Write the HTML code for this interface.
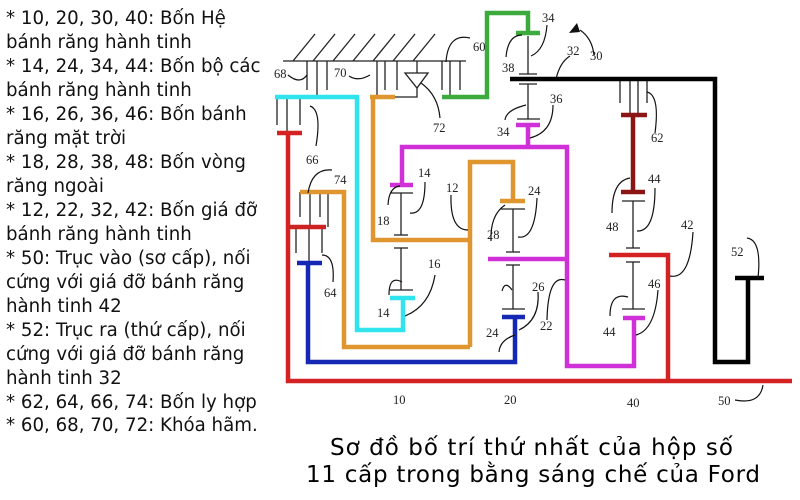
<!DOCTYPE html>
<html><head><meta charset="utf-8"><style>
html,body{margin:0;padding:0;background:#fff;}
svg{display:block;}
.t{font-family:"DejaVu Sans","Liberation Sans",sans-serif;font-size:18.2px;fill:#111;}
.n{font-family:"Liberation Serif",serif;font-size:12.5px;fill:#222;}
.h{font-family:"DejaVu Sans","Liberation Sans",sans-serif;font-size:23px;fill:#000;}
</style></head><body>
<svg width="800" height="500" viewBox="0 0 800 500" xmlns="http://www.w3.org/2000/svg">
<g class="t">
<text x="6" y="24">* 10, 20, 30, 40: Bốn Hệ</text>
<text x="6" y="48">bánh răng hành tinh</text>
<text x="6" y="72">* 14, 24, 34, 44: Bốn bộ các</text>
<text x="6" y="96">bánh răng hành tinh</text>
<text x="6" y="120">* 16, 26, 36, 46: Bốn bánh</text>
<text x="6" y="144">răng mặt trời</text>
<text x="6" y="168">* 18, 28, 38, 48: Bốn vòng</text>
<text x="6" y="192">răng ngoài</text>
<text x="6" y="216">* 12, 22, 32, 42: Bốn giá đỡ</text>
<text x="6" y="240">bánh răng hành tinh</text>
<text x="6" y="264">* 50: Trục vào (sơ cấp), nối</text>
<text x="6" y="288">cứng với giá đỡ bánh răng</text>
<text x="6" y="312">hành tinh 42</text>
<text x="6" y="336">* 52: Trục ra (thứ cấp), nối</text>
<text x="6" y="360">cứng với giá đỡ bánh răng</text>
<text x="6" y="384">hành tinh 32</text>
<text x="6" y="408">* 62, 64, 66, 74: Bốn ly hợp</text>
<text x="6" y="431">* 60, 68, 70, 72: Khóa hãm.</text>
</g>
<text class="h" x="330" y="455" textLength="403">Sơ đồ bố trí thứ nhất của hộp số</text>
<text class="h" x="306" y="482" textLength="454">11 cấp trong bằng sáng chế của Ford</text>

<g stroke="#222" stroke-width="1.3" fill="none">
<line x1="283" y1="61" x2="466" y2="61"/>
<line x1="293" y1="61" x2="315" y2="34"/><line x1="313" y1="61" x2="335" y2="34"/>
<line x1="333" y1="61" x2="355" y2="34"/><line x1="353" y1="61" x2="375" y2="34"/>
<line x1="373" y1="61" x2="395" y2="34"/><line x1="393" y1="61" x2="415" y2="34"/>
<line x1="413" y1="61" x2="435" y2="34"/>
<line x1="307" y1="61" x2="307" y2="90"/><line x1="317" y1="61" x2="317" y2="97"/><line x1="327" y1="61" x2="327" y2="90"/>
<line x1="377" y1="61" x2="377" y2="97"/><line x1="385" y1="61" x2="385" y2="90"/><line x1="397" y1="61" x2="397" y2="90"/>
<line x1="442" y1="61" x2="442" y2="90"/><line x1="450" y1="61" x2="450" y2="97"/><line x1="460" y1="61" x2="460" y2="90"/>
<line x1="417" y1="61" x2="417" y2="73"/>
<path d="M405 73 L428 73 L417 88 Z"/>
<polyline points="417,88 417,97 395,97"/>
<line x1="277" y1="97" x2="277" y2="125"/><line x1="287" y1="97" x2="287" y2="133"/><line x1="300" y1="97" x2="300" y2="125"/>
<line x1="300" y1="192" x2="300" y2="217"/><line x1="310" y1="192" x2="310" y2="227"/><line x1="320" y1="192" x2="320" y2="217"/><line x1="328" y1="192" x2="328" y2="227"/>
<line x1="296" y1="227" x2="296" y2="253"/><line x1="309" y1="227" x2="309" y2="263"/><line x1="322" y1="227" x2="322" y2="253"/>
<line x1="620" y1="79" x2="620" y2="103"/><line x1="630" y1="79" x2="630" y2="115"/><line x1="638" y1="79" x2="638" y2="115"/><line x1="647" y1="79" x2="647" y2="103"/>
<line x1="528" y1="36" x2="528" y2="74"/><line x1="519" y1="74" x2="537" y2="74"/>
<line x1="519" y1="84" x2="537" y2="84"/><line x1="528" y1="84" x2="528" y2="119"/><line x1="517" y1="119" x2="540" y2="119"/>
<line x1="390" y1="193" x2="413" y2="193"/><line x1="401" y1="193" x2="401" y2="235"/><line x1="394" y1="235" x2="408" y2="235"/>
<line x1="394" y1="248" x2="408" y2="248"/><line x1="401" y1="248" x2="401" y2="290"/><line x1="390" y1="290" x2="413" y2="290"/>
<line x1="501" y1="209" x2="525" y2="209"/><line x1="513" y1="209" x2="513" y2="252"/><line x1="506" y1="252" x2="520" y2="252"/>
<line x1="506" y1="265" x2="520" y2="265"/><line x1="513" y1="265" x2="513" y2="309"/><line x1="502" y1="309" x2="525" y2="309"/>
<line x1="622" y1="201" x2="645" y2="201"/><line x1="633" y1="201" x2="633" y2="248"/><line x1="626" y1="248" x2="640" y2="248"/>
<line x1="626" y1="262" x2="640" y2="262"/><line x1="633" y1="262" x2="633" y2="309"/><line x1="622" y1="309" x2="645" y2="309"/>
</g>

<g fill="none" stroke-width="4.5" stroke-linecap="butt" stroke-linejoin="miter">
<polyline stroke="#d42222" points="277,133 302,133"/>
<polyline stroke="#d42222" points="288,133 288,381 792,381"/>
<polyline stroke="#d42222" points="609,255 668,255 668,381"/>
<polyline stroke="#cc2222" points="290,227 326,227"/>
<polyline stroke="#30e4ee" points="275,97 357,97 357,330 403,330 403,298"/>
<line stroke="#30e4ee" x1="390" y1="298" x2="415" y2="298"/>
<line stroke="#e0962e" x1="370" y1="97" x2="395" y2="97"/>
<polyline stroke="#e0962e" points="373,97 373,240 470,240"/>
<polyline stroke="#e0962e" points="470,347 470,162 513,162 513,201"/>
<line stroke="#e0962e" x1="500" y1="201" x2="525" y2="201"/>
<polyline stroke="#e0962e" points="300,192 344,192 344,347 470,347"/>
<line stroke="#1428b4" x1="297" y1="263" x2="322" y2="263"/>
<polyline stroke="#1428b4" points="308,263 308,362 515,362 515,317"/>
<line stroke="#1428b4" x1="502" y1="317" x2="525" y2="317"/>
<line stroke="#d030d8" x1="516" y1="125" x2="540" y2="125"/>
<polyline stroke="#d030d8" points="402,185 402,147 567,147 567,366 634,366 634,318"/>
<line stroke="#d030d8" x1="528" y1="125" x2="528" y2="147"/>
<line stroke="#d030d8" x1="390" y1="185" x2="413" y2="185"/>
<line stroke="#d030d8" x1="488" y1="259" x2="567" y2="259"/>
<line stroke="#d030d8" x1="623" y1="318" x2="645" y2="318"/>
<polyline stroke="#3caa3c" points="442,97 487,97 487,13 528,13 528,33"/>
<line stroke="#3caa3c" x1="516" y1="33" x2="540" y2="33"/>
<polyline stroke="#000" points="510,79 715,79 715,362 748,362 748,278"/>
<line stroke="#000" x1="735" y1="278" x2="764" y2="278"/>
<line stroke="#8b1515" x1="621" y1="115" x2="647" y2="115"/>
<line stroke="#8b1515" x1="633" y1="115" x2="633" y2="192"/>
<line stroke="#8b1515" x1="621" y1="192" x2="645" y2="192"/>
</g>

<g fill="none" stroke="#111" stroke-width="1.2">
<path d="M288 75 Q300 85 307 75"/>
<path d="M349 76 Q358 82 370 75"/>
<path d="M446 62 Q448 33 470 38"/>
<path d="M421 83 Q438 95 440 118"/>
<path d="M310 106 Q322 110 316 146"/>
<path d="M308 193 Q312 168 332 170"/>
<path d="M322 255 Q335 255 333 282"/>
<path d="M388 205 Q389 187 400 186"/>
<path d="M410 213 Q425 215 425 182"/>
<path d="M451 195 Q450 230 468 230"/>
<path d="M389 295 Q389 275 402 282"/>
<path d="M405 316 Q430 306 435 275"/>
<path d="M491 241 Q490 215 505 205"/>
<path d="M518 237 Q535 240 537 198"/>
<path d="M499 352 Q500 340 515 335"/>
<path d="M502 291 Q505 280 512 290"/>
<path d="M519 330 Q540 320 538 292"/>
<path d="M547 320 Q548 275 565 280"/>
<path d="M506 57 Q508 35 522 35"/>
<path d="M531 56 Q545 50 547 25"/>
<path d="M505 120 Q506 110 526 105"/>
<path d="M530 138 Q553 132 553 105"/>
<path d="M556 79 Q560 62 570 56"/>
<path d="M594 55 Q592 38 580 30"/>
<path d="M647 92 Q660 95 655 133"/>
<path d="M612 213 Q612 181 630 178"/>
<path d="M637 231 Q655 232 655 188"/>
<path d="M670 276 Q690 280 693 232"/>
<path d="M610 316 Q610 292 628 297"/>
<path d="M636 335 Q655 330 658 290"/>
<path d="M758 278 Q762 240 747 238"/>
<path d="M735 400 Q760 405 763 385"/>
</g>
<path d="M569 33 L577 23 L580 32 Z" fill="#111"/>

<g class="n">
<text x="274" y="78">68</text><text x="334" y="77">70</text><text x="473" y="51">60</text>
<text x="433" y="132">72</text><text x="306" y="164">66</text><text x="334" y="184">74</text>
<text x="418" y="177">14</text><text x="446" y="192">12</text><text x="377" y="225">18</text>
<text x="428" y="268">16</text><text x="377" y="317">14</text><text x="324" y="297">64</text>
<text x="528" y="195">24</text><text x="487" y="239">28</text><text x="532" y="291">26</text>
<text x="486" y="337">24</text><text x="540" y="330">22</text>
<text x="542" y="22">34</text><text x="502" y="72">38</text><text x="497" y="136">34</text>
<text x="550" y="103">36</text><text x="567" y="55">32</text><text x="590" y="60">30</text>
<text x="651" y="142">62</text><text x="648" y="183">44</text><text x="606" y="231">48</text>
<text x="681" y="229">42</text><text x="731" y="256">52</text><text x="648" y="288">46</text>
<text x="603" y="336">44</text>
<text x="393" y="404">10</text><text x="504" y="404">20</text><text x="627" y="407">40</text>
<text x="718" y="405">50</text>
</g>
</svg>
</body></html>
